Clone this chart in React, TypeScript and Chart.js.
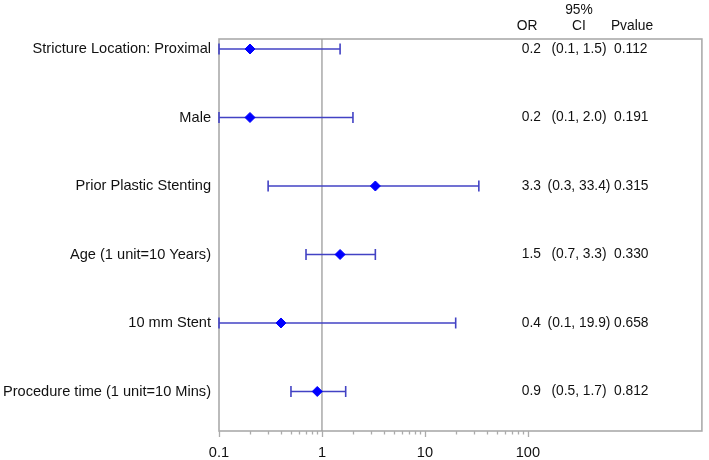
import React, { useEffect, useRef } from 'react';
import { Chart, registerables } from 'chart.js';

Chart.register(...registerables);

const categories = [
  'Stricture Location: Proximal',
  'Male',
  'Prior Plastic Stenting',
  'Age (1 unit=10 Years)',
  '10 mm Stent',
  'Procedure time (1 unit=10 Mins)',
];
const oddsRatios = [0.2, 0.2, 3.3, 1.5, 0.4, 0.9];
const ciLower = [0.1, 0.1, 0.3, 0.7, 0.1, 0.5];
const ciUpper = [1.5, 2.0, 33.4, 3.3, 19.9, 1.7];
const orLabels = ['0.2', '0.2', '3.3', '1.5', '0.4', '0.9'];
const ciLabels = ['(0.1, 1.5)', '(0.1, 2.0)', '(0.3, 33.4)', '(0.7, 3.3)', '(0.1, 19.9)', '(0.5, 1.7)'];
const pValueLabels = ['0.112', '0.191', '0.315', '0.330', '0.658', '0.812'];
const xTickValues = [0.1, 1, 10, 100];
const xMinorTickValues = [
  0.2, 0.3, 0.4, 0.5, 0.6, 0.7, 0.8, 0.9,
  2, 3, 4, 5, 6, 7, 8, 9,
  20, 30, 40, 50, 60, 70, 80, 90,
];
const referenceValue = 1;

const FONT = '"Liberation Sans", Arial, sans-serif';
const FONT_SIZE = 14.6;
const TABLE_FONT_SIZE = 13.8;
const TEXT_COLOR = '#111';
const FRAME_COLOR = '#ababab';
const BAR_COLOR = '#4242c4';
const MARKER_COLOR = '#0000ff';
const Y_MIN = -0.146;
const Y_MAX = 5.577;
const X_MIN = 0.1;
const X_MAX = 4900;

const forestPlugin = {
  id: 'forestExtras',
  beforeDatasetsDraw(chart: any) {
    const { ctx, chartArea } = chart;
    ctx.save();
    ctx.strokeStyle = FRAME_COLOR;
    ctx.lineWidth = 1.6;
    ctx.strokeRect(chartArea.left, chartArea.top, chartArea.right - chartArea.left, chartArea.bottom - chartArea.top);
    ctx.restore();
  },
  afterDraw(chart: any) {
    const { ctx, chartArea, scales } = chart;
    const x = scales.x;
    const y = scales.y;
    ctx.save();
    // tick marks
    ctx.strokeStyle = FRAME_COLOR;
    ctx.lineWidth = 1.3;
    ctx.beginPath();
    xTickValues.forEach((v) => {
      const px = Math.round(x.getPixelForValue(v)) + 0.5;
      ctx.moveTo(px, chartArea.bottom);
      ctx.lineTo(px, chartArea.bottom + 6);
    });
    xMinorTickValues.forEach((v) => {
      const px = Math.round(x.getPixelForValue(v)) + 0.5;
      ctx.moveTo(px, chartArea.bottom);
      ctx.lineTo(px, chartArea.bottom + 3.5);
    });
    ctx.stroke();

    // header
    ctx.fillStyle = TEXT_COLOR;
    ctx.font = `${TABLE_FONT_SIZE}px ${FONT}`;
    ctx.textBaseline = 'middle';
    ctx.textAlign = 'center';
    ctx.fillText('OR', 527, 26);
    ctx.fillText('95%', 579, 10);
    ctx.fillText('CI', 579, 26);
    ctx.fillText('Pvalue', 632, 26);

    // table values
    categories.forEach((_, i) => {
      const py = y.getPixelForValue(i);
      ctx.textAlign = 'right';
      ctx.fillText(orLabels[i], 541, py);
      ctx.textAlign = 'center';
      ctx.fillText(ciLabels[i], 579, py);
      ctx.textAlign = 'left';
      ctx.fillText(pValueLabels[i], 614, py);
    });
    ctx.restore();
  },
};

export default function App() {
  const canvasRef = useRef<HTMLCanvasElement | null>(null);

  useEffect(() => {
    if (!canvasRef.current) return;
    const rowIdx = categories.map((_, i) => i);

    const whiskerSets = rowIdx.map((i) => ({
      type: 'line' as const,
      data: [
        { x: ciLower[i], y: i },
        { x: ciUpper[i], y: i },
      ],
      borderColor: BAR_COLOR,
      borderWidth: 1.5,
      pointRadius: 0,
      clip: false as any,
      order: 3,
    }));

    const chart = new Chart(canvasRef.current, {
      type: 'scatter',
      data: {
        datasets: [
          {
            type: 'line',
            data: [
              { x: referenceValue, y: Y_MIN },
              { x: referenceValue, y: Y_MAX },
            ],
            borderColor: '#9c9c9c',
            borderWidth: 1.3,
            pointRadius: 0,
            order: 4,
          } as any,
          ...whiskerSets,
          {
            data: rowIdx.flatMap((i) => [
              { x: ciLower[i], y: i },
              { x: ciUpper[i], y: i },
            ]),
            pointStyle: 'line',
            rotation: 90,
            radius: 5.5,
            borderColor: BAR_COLOR,
            backgroundColor: BAR_COLOR,
            borderWidth: 1.6,
            clip: false,
            order: 2,
          } as any,
          {
            data: rowIdx.map((i) => ({ x: oddsRatios[i], y: i })),
            pointStyle: 'rectRot',
            radius: 5,
            borderColor: MARKER_COLOR,
            backgroundColor: MARKER_COLOR,
            borderWidth: 1,
            clip: false,
            order: 1,
          } as any,
        ],
      },
      options: {
        animation: false,
        responsive: false,
        devicePixelRatio: 1,
        layout: { padding: { top: 39, right: 3, left: 0, bottom: 0 } },
        plugins: {
          legend: { display: false },
          tooltip: { enabled: false },
        },
        scales: {
          x: {
            type: 'logarithmic',
            min: X_MIN,
            max: X_MAX,
            grid: { display: false, drawTicks: false, tickLength: 0 },
            border: { display: false },
            afterBuildTicks: (scale: any) => {
              scale.ticks = xTickValues.map((v) => ({ value: v }));
            },
            afterFit: (scale: any) => {
              scale.height = 29;
            },
            ticks: {
              autoSkip: false,
              maxRotation: 0,
              padding: 13,
              color: TEXT_COLOR,
              font: { family: FONT, size: FONT_SIZE },
              callback: (v: any) => String(v),
            },
          },
          y: {
            type: 'linear',
            reverse: true,
            min: Y_MIN,
            max: Y_MAX,
            grid: { display: false, drawTicks: false, tickLength: 0 },
            border: { display: false },
            afterBuildTicks: (scale: any) => {
              scale.ticks = categories.map((_, i) => ({ value: i }));
            },
            afterFit: (scale: any) => {
              scale.width = 219;
            },
            ticks: {
              autoSkip: false,
              padding: 8,
              color: TEXT_COLOR,
              font: { family: FONT, size: FONT_SIZE },
              callback: (v: any) => categories[v as number] ?? '',
            },
          },
        },
      },
      plugins: [forestPlugin],
    } as any);

    return () => chart.destroy();
  }, []);

  return (
    <div style={{ position: 'absolute', left: 0, top: 0, width: 709, height: 460, background: '#fff' }}>
      <canvas ref={canvasRef} width={709} height={460} />
    </div>
  );
}
